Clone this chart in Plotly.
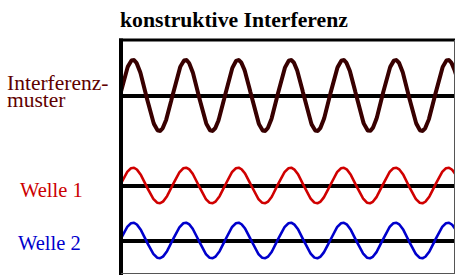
import numpy as np
import plotly.graph_objects as go

# ---- data ----
title_text = "konstruktive Interferenz"
labels = ["Interferenz-", "muster", "Welle 1", "Welle 2"]
amplitude_welle1 = 1.0
amplitude_welle2 = 1.0
phase_welle1 = 0.0
phase_welle2 = 0.0
n_periods = 6.4
n_samples = 800

x = np.linspace(0, n_periods, n_samples)
welle1 = amplitude_welle1 * np.sin(2 * np.pi * x + phase_welle1)
welle2 = amplitude_welle2 * np.sin(2 * np.pi * x + phase_welle2)
interferenz = welle1 + welle2

W, H = 456, 275
def px(p):
    return p / W
def py(p):
    return 1 - p / H

scale = 17.75  # px per unit

def band(center, half):
    return [py(center + half), py(center - half)], [-half / scale, half / scale]

d1, r1 = band(95.5, 40)
d2, r2 = band(185.5, 22)
d3, r3 = band(240.5, 22)

fig = go.Figure()
fig.add_trace(go.Scatter(x=x, y=interferenz, mode="lines", yaxis="y",
                         line=dict(color="#380000", width=4), hoverinfo="skip"))
fig.add_trace(go.Scatter(x=x, y=welle1, mode="lines", yaxis="y2",
                         line=dict(color="#d00000", width=2.6), hoverinfo="skip"))
fig.add_trace(go.Scatter(x=x, y=welle2, mode="lines", yaxis="y3",
                         line=dict(color="#0000cc", width=2.6), hoverinfo="skip"))

yax = dict(showgrid=False, showticklabels=False, ticks="", zeroline=True,
           zerolinecolor="black", zerolinewidth=3.5, showline=False, fixedrange=True)

fig.update_layout(
    width=W, height=H, autosize=False,
    margin=dict(l=0, r=0, t=0, b=0),
    paper_bgcolor="white", plot_bgcolor="white",
    showlegend=False,
    xaxis=dict(domain=[px(121), px(454)], range=[0.02, 0.02 + 333 / 52.5],
               showgrid=False, showticklabels=False, ticks="", zeroline=False,
               showline=False, fixedrange=True),
    yaxis=dict(domain=d1, range=r1, anchor="x", **yax),
    yaxis2=dict(domain=d2, range=r2, anchor="x", **yax),
    yaxis3=dict(domain=d3, range=r3, anchor="x", **yax),
)

serif = "'Liberation Serif', 'Times New Roman', serif"
ann = [
    dict(text="<b>" + title_text + "</b>", x=px(118), y=py(20), size=21.7, color="black"),
    dict(text=labels[0], x=px(5), y=py(82.5), size=21.5, color="#600000"),
    dict(text=labels[1], x=px(5), y=py(100), size=21.5, color="#600000"),
    dict(text=labels[2], x=px(18), y=py(190), size=20.5, color="#cc0000"),
    dict(text=labels[3], x=px(16), y=py(243), size=20.5, color="#0000cc"),
]
for a in ann:
    fig.add_annotation(text=a["text"], x=a["x"], y=a["y"], xref="paper", yref="paper",
                       xanchor="left", yanchor="middle", showarrow=False,
                       font=dict(family=serif, size=a["size"], color=a["color"]))

# frame
fig.add_shape(type="line", xref="paper", yref="paper", x0=px(119), x1=px(455),
              y0=py(40), y1=py(40), line=dict(color="black", width=3))
fig.add_shape(type="line", xref="paper", yref="paper", x0=px(121), x1=px(121),
              y0=py(38.5), y1=py(275), line=dict(color="black", width=4))
fig.add_shape(type="line", xref="paper", yref="paper", x0=px(454.5), x1=px(454.5),
              y0=py(40), y1=py(274), line=dict(color="#555555", width=1))
fig.add_shape(type="line", xref="paper", yref="paper", x0=px(121), x1=px(455),
              y0=py(273.5), y1=py(273.5), line=dict(color="#555555", width=1))

fig.write_html("out.html", config={"displayModeBar": False},
               post_script="document.body.style.margin='0';document.body.style.overflow='hidden';")
